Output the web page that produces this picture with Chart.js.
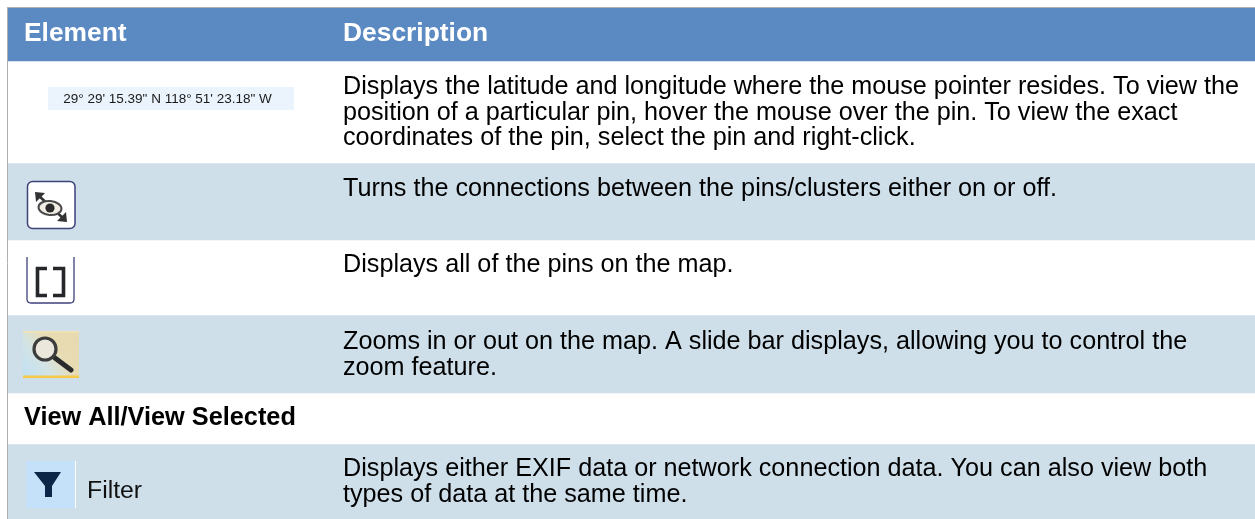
<!DOCTYPE html>
<html>
<head>
<meta charset="utf-8">
<title>Map controls</title>
<script src="https://cdn.jsdelivr.net/npm/chart.js@4/dist/chart.umd.js"></script>
<style>
  html, body { margin: 0; padding: 0; background: #fff; }
  canvas { display: block; }
</style>
</head>
<body>
<canvas id="tableChart" width="1255" height="519"></canvas>
<script>
const headers = ["Element", "Description"];
const rowNames = ["header", "coordinates", "connections", "fit", "zoom", "view", "filter"];
const rowHeights = [53.5, 102, 77, 75, 78, 51, 75];
const rowColors = ["#5b89c2", "#ffffff", "#cedfea", "#ffffff", "#cedfea", "#ffffff", "#cedfea"];
const coordinateLabel = "29° 29' 15.39\" N 118° 51' 23.18\" W";
const sectionLabel = "View All/View Selected";
const filterLabel = "Filter";
const descriptions = [
  [],
  ["Displays the latitude and longitude where the mouse pointer resides. To view the",
   "position of a particular pin, hover the mouse over the pin. To view the exact",
   "coordinates of the pin, select the pin and right-click."],
  ["Turns the connections between the pins/clusters either on or off."],
  ["Displays all of the pins on the map."],
  ["Zooms in or out on the map. A slide bar displays, allowing you to control the",
   "zoom feature."],
  [],
  ["Displays either EXIF data or network connection data. You can also view both",
   "types of data at the same time."]
];

const FONT = '"Liberation Sans", Arial, sans-serif';

function drawEyeIcon(ctx) {
  ctx.fillStyle = "#ffffff";
  ctx.strokeStyle = "#3d4279";
  ctx.lineWidth = 1.5;
  ctx.beginPath();
  ctx.roundRect(27.5, 181.5, 47.5, 47, 5);
  ctx.fill();
  ctx.stroke();
  ctx.strokeStyle = "#333333";
  ctx.fillStyle = "#333333";
  ctx.lineWidth = 2.6;
  ctx.beginPath();
  ctx.moveTo(38, 195);
  ctx.lineTo(64, 219);
  ctx.stroke();
  ctx.beginPath();
  ctx.moveTo(35, 192);
  ctx.lineTo(45, 193);
  ctx.lineTo(36, 202);
  ctx.closePath();
  ctx.moveTo(67, 222);
  ctx.lineTo(57, 221);
  ctx.lineTo(66, 212);
  ctx.closePath();
  ctx.fill();
  ctx.fillStyle = "#f2eee6";
  ctx.strokeStyle = "#4a4a4a";
  ctx.lineWidth = 2;
  ctx.beginPath();
  ctx.ellipse(50, 208, 11.5, 7, 0.1, 0, Math.PI * 2);
  ctx.fill();
  ctx.stroke();
  ctx.fillStyle = "#2b2b2b";
  ctx.beginPath();
  ctx.arc(50, 208, 4.6, 0, Math.PI * 2);
  ctx.fill();
}

function drawBracketIcon(ctx) {
  ctx.fillStyle = "#ffffff";
  ctx.fillRect(27, 257, 47, 46);
  ctx.strokeStyle = "#3d4279";
  ctx.lineWidth = 1.3;
  ctx.beginPath();
  ctx.moveTo(27, 257);
  ctx.lineTo(27, 299);
  ctx.quadraticCurveTo(27, 303, 31, 303);
  ctx.lineTo(70, 303);
  ctx.quadraticCurveTo(74, 303, 74, 299);
  ctx.lineTo(74, 257);
  ctx.stroke();
  ctx.strokeStyle = "#26262b";
  ctx.lineWidth = 3.6;
  ctx.beginPath();
  ctx.moveTo(47, 268.5);
  ctx.lineTo(37.5, 268.5);
  ctx.lineTo(37.5, 295.5);
  ctx.lineTo(47, 295.5);
  ctx.moveTo(53, 268.5);
  ctx.lineTo(63.5, 268.5);
  ctx.lineTo(63.5, 295.5);
  ctx.lineTo(53, 295.5);
  ctx.stroke();
}

function drawZoomIcon(ctx) {
  const bg = ctx.createLinearGradient(23, 378, 79, 331);
  bg.addColorStop(0, "#bfe0f6");
  bg.addColorStop(0.35, "#d3e4e4");
  bg.addColorStop(0.6, "#e8dcb4");
  bg.addColorStop(1, "#e8d9ae");
  ctx.fillStyle = bg;
  ctx.fillRect(23, 331, 56, 47);
  ctx.fillStyle = "#f7c94b";
  ctx.fillRect(23, 375.5, 56, 2.5);
  ctx.fillStyle = "#f3e4b4";
  ctx.fillRect(23, 331, 56, 1.5);
  ctx.strokeStyle = "#2a2a2a";
  ctx.lineCap = "round";
  ctx.lineWidth = 5;
  ctx.beginPath();
  ctx.moveTo(55, 358);
  ctx.lineTo(71, 370);
  ctx.stroke();
  ctx.lineCap = "butt";
  ctx.fillStyle = "#ece7dd";
  ctx.strokeStyle = "#3c3c3c";
  ctx.lineWidth = 3.2;
  ctx.beginPath();
  ctx.arc(45, 349, 11, 0, Math.PI * 2);
  ctx.fill();
  ctx.stroke();
}

function drawFilterIcon(ctx) {
  ctx.fillStyle = "#c4e1f9";
  ctx.fillRect(26, 461, 49, 47);
  ctx.fillStyle = "#ffffff";
  ctx.fillRect(75, 461, 1, 47);
  ctx.fillStyle = "#0c2647";
  ctx.beginPath();
  ctx.moveTo(34, 472);
  ctx.lineTo(61, 472);
  ctx.lineTo(52, 486);
  ctx.lineTo(52, 497);
  ctx.lineTo(45, 497);
  ctx.lineTo(45, 486);
  ctx.closePath();
  ctx.fill();
}

const firstLineOffset = [33, 33, 33, 32, 34, 32, 32];
const lineStep = 25.5;
const elementX = 24;
const descriptionX = 343;

const tablePlugin = {
  id: "tablePlugin",
  afterDatasetsDraw(chart) {
    const { ctx, scales: { y } } = chart;
    ctx.save();
    ctx.textBaseline = "alphabetic";
    ctx.textAlign = "left";

    // row tops come from the same stacked values the bars use
    let running = 0;
    const rowTop = rowHeights.map((h) => {
      const top = y.getPixelForValue(running);
      running += h;
      return top;
    });

    ctx.fillStyle = "#ffffff";
    ctx.font = "bold 26.4px " + FONT;
    ctx.fillText(headers[0], elementX, rowTop[0] + firstLineOffset[0]);
    ctx.fillText(headers[1], descriptionX, rowTop[0] + firstLineOffset[0]);

    ctx.fillStyle = "#000000";
    ctx.font = "25.2px " + FONT;
    descriptions.forEach((lines, i) => {
      lines.forEach((line, j) => {
        ctx.fillText(line, descriptionX, rowTop[i] + firstLineOffset[i] + j * lineStep);
      });
    });

    ctx.fillStyle = "#111111";
    ctx.font = "24.8px " + FONT;
    ctx.fillText(filterLabel, 87, 498);

    ctx.fillStyle = "#000000";
    ctx.font = "bold 25.3px " + FONT;
    ctx.fillText(sectionLabel, elementX, rowTop[5] + firstLineOffset[5]);

    ctx.fillStyle = "#ebf3fc";
    ctx.fillRect(48, 87, 246, 23);
    ctx.fillStyle = "#1a1a1a";
    ctx.font = "13.5px " + FONT;
    ctx.fillText(coordinateLabel, 63.3, 103);

    drawEyeIcon(ctx);
    drawBracketIcon(ctx);
    drawZoomIcon(ctx);
    drawFilterIcon(ctx);
    ctx.restore();
  }
};

new Chart(document.getElementById("tableChart").getContext("2d"), {
  type: "bar",
  data: {
    labels: ["table"],
    datasets: rowHeights.map((h, i) => ({
      label: rowNames[i],
      data: [h],
      backgroundColor: rowColors[i],
      borderWidth: 0,
      barPercentage: 1,
      categoryPercentage: 1
    }))
  },
  options: {
    responsive: false,
    animation: false,
    layout: { padding: { top: 7, left: 7, right: 0, bottom: 0 } },
    plugins: {
      legend: { display: false },
      title: { display: false },
      tooltip: { enabled: false }
    },
    scales: {
      x: {
        stacked: true,
        position: "top",
        ticks: { display: false },
        grid: { display: false, drawTicks: false },
        border: { display: true, color: "#b0b0b0", width: 1, z: 1 }
      },
      y: {
        stacked: true,
        reverse: true,
        min: -0.5,
        max: 511.5,
        ticks: { display: false },
        grid: { display: false, drawTicks: false },
        border: { display: true, color: "#b0b0b0", width: 1, z: 1 }
      }
    }
  },
  plugins: [tablePlugin]
});
</script>
</body>
</html>
